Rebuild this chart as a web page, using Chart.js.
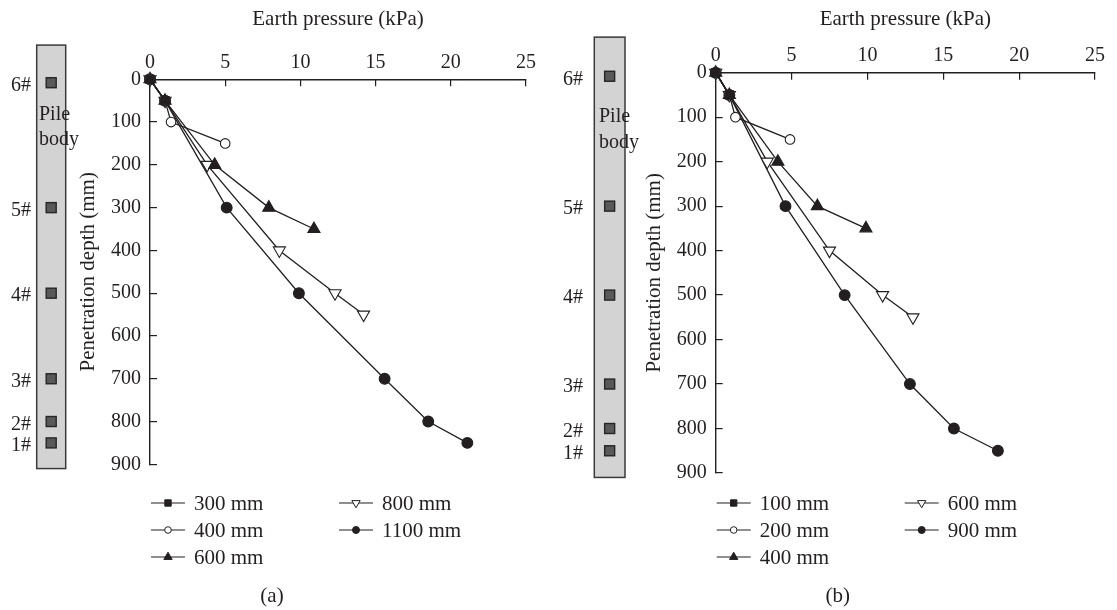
<!DOCTYPE html>
<html>
<head>
<meta charset="utf-8">
<script src="https://cdn.jsdelivr.net/npm/chart.js@4.4.0/dist/chart.umd.min.js"></script>
<style>
html, body { margin: 0; padding: 0; background: #fff; }
#wrap { position: relative; width: 1117px; height: 610px; overflow: hidden; }
canvas { position: absolute; top: 0; }
</style>
</head>
<body>
<div id="wrap">
  <canvas id="chartA" width="558" height="610" style="left:0"></canvas>
  <canvas id="chartB" width="559" height="610" style="left:558px"></canvas>
</div>
<script>
/**
 * Axes
 */
const xTitle = "Earth pressure (kPa)";
const yTitle = "Penetration depth (mm)";
const xMin = 0, xMax = 25, xStep = 5;
const yMin = 0, yMax = 900, yStep = 100;

/**
 * Pile body sketch (depths in mm)
 */
const sensorLabels = ["6#", "5#", "4#", "3#", "2#", "1#"];
const sensorDepths = [8, 300, 500, 700, 800, 850];
const pileTop = -80;
const pileBottom = 910;

/**
 * Panel (a)
 */
const seriesA = ["300 mm", "400 mm", "600 mm", "800 mm", "1100 mm"];
const pressA300 = [0, 1.0];
const depthA300 = [0, 50];
const pressA400 = [0, 1.0, 1.4, 5.0];
const depthA400 = [0, 50, 100, 150];
const pressA600 = [0, 1.0, 4.3, 7.9, 10.9];
const depthA600 = [0, 50, 200, 300, 350];
const pressA800 = [0, 1.0, 3.8, 8.6, 12.3, 14.2];
const depthA800 = [0, 50, 200, 400, 500, 550];
const pressA1100 = [0, 1.0, 5.1, 9.9, 15.6, 18.5, 21.1];
const depthA1100 = [0, 50, 300, 500, 700, 800, 850];

/**
 * Panel (b)
 */
const seriesB = ["100 mm", "200 mm", "400 mm", "600 mm", "900 mm"];
const pressB100 = [0, 0.9];
const depthB100 = [0, 50];
const pressB200 = [0, 0.9, 1.3, 4.9];
const depthB200 = [0, 50, 100, 150];
const pressB400 = [0, 0.9, 4.1, 6.7, 9.9];
const depthB400 = [0, 50, 200, 300, 350];
const pressB600 = [0, 0.9, 3.4, 7.5, 11.0, 13.0];
const depthB600 = [0, 50, 200, 400, 500, 550];
const pressB900 = [0, 0.9, 4.6, 8.5, 12.8, 15.7, 18.6];
const depthB900 = [0, 50, 300, 500, 700, 800, 850];

/**
 * Look
 */
const ink = "#231f20";
const fontFamily = "'Liberation Serif', 'Times New Roman', serif";
// marker per series position: filled square, open circle, filled triangle, open down triangle, filled circle
const markers = [
    {style: "rect", fill: ink, radius: 5.8, rot: 0, legendR: 4.5},
    {style: "circle", fill: "#fff", radius: 4.8, rot: 0, legendR: 3.3},
    {style: "triangle", fill: ink, radius: 7, rot: 0, legendR: 4.8},
    {style: "triangle", fill: "#fff", radius: 7, rot: 180, legendR: 4.8},
    {style: "circle", fill: ink, radius: 5.4, rot: 0, legendR: 3.5},
];

function toPoints(xs, ys) {
    return xs.map((x, i) => ({x: x, y: ys[i]}));
}

//small marker for the legend, same shapes as the chart
function drawMarker(ctx, m, x, y) {
    const r = m.legendR;
    ctx.beginPath();
    if (m.style === "rect") {
        const s = r * Math.SQRT1_2;
        ctx.rect(x - s, y - s, 2 * s, 2 * s);
    } else if (m.style === "circle") {
        ctx.arc(x, y, r, 0, Math.PI * 2);
    } else {
        const dir = m.rot === 180 ? 1 : -1;
        ctx.moveTo(x, y + dir * r);
        ctx.lineTo(x - r * 0.866, y - dir * r * 0.5);
        ctx.lineTo(x + r * 0.866, y - dir * r * 0.5);
        ctx.closePath();
    }
    ctx.fillStyle = m.fill;
    ctx.fill();
    ctx.lineWidth = 1;
    ctx.strokeStyle = ink;
    ctx.stroke();
}

/**
 * Pile body drawn next to the depth axis, sensors placed on the y scale
 */
const pilePlugin = {
    id: "pile",
    afterDraw(chart, args, opts) {
        const ctx = chart.ctx;
        const y = chart.scales.y;
        const top = y.getPixelForValue(pileTop);
        const bottom = y.getPixelForValue(pileBottom);
        ctx.save();
        ctx.fillStyle = "#d3d3d3";
        ctx.fillRect(opts.left, top, opts.width, bottom - top);
        ctx.lineWidth = 1.5;
        ctx.strokeStyle = "#3a3a3a";
        ctx.strokeRect(opts.left, top, opts.width, bottom - top);

        const cx = opts.left + opts.width / 2;
        ctx.font = "20px " + fontFamily;
        ctx.textBaseline = "middle";
        sensorDepths.forEach((d, i) => {
            const py = y.getPixelForValue(d);
            ctx.fillStyle = "#595959";
            ctx.fillRect(cx - 5, py - 5, 10, 10);
            ctx.lineWidth = 1.4;
            ctx.strokeStyle = "#262626";
            ctx.strokeRect(cx - 5, py - 5, 10, 10);
            ctx.fillStyle = ink;
            ctx.textAlign = "right";
            ctx.fillText(sensorLabels[i], opts.labelRight, py + 3);
        });

        ctx.textAlign = "left";
        ctx.fillStyle = ink;
        ctx.fillText("Pile", opts.textLeft, opts.textY[0]);
        ctx.fillText("body", opts.textLeft, opts.textY[1]);
        ctx.restore();
    }
};

/**
 * Two-column legend (column first) and the panel caption
 */
const keyPlugin = {
    id: "key",
    afterDraw(chart, args, opts) {
        const ctx = chart.ctx;
        const left = chart.chartArea.left + 1;
        const rows = [503, 530, 557];
        ctx.save();
        ctx.font = "21px " + fontFamily;
        ctx.textBaseline = "middle";
        ctx.textAlign = "left";
        chart.data.datasets.forEach((ds, i) => {
            const col = i < 3 ? 0 : 1;
            const x = left + col * 188;
            const yy = rows[i % 3];
            ctx.strokeStyle = ink;
            ctx.lineWidth = 1.2;
            ctx.beginPath();
            ctx.moveTo(x, yy);
            ctx.lineTo(x + 34, yy);
            ctx.stroke();
            drawMarker(ctx, markers[i], x + 17, yy);
            ctx.fillStyle = ink;
            ctx.fillText(ds.label, x + 43, yy + 1);
        });
        ctx.textAlign = "center";
        ctx.fillText(opts.caption, chart.chartArea.left + 122, 596);
        ctx.restore();
    }
};

function makePanel(id, names, series, box) {
    const canvas = document.getElementById(id);
    const W = canvas.width, H = canvas.height;
    const datasets = series.map((s, i) => ({
        label: names[i],
        data: toPoints(s[0], s[1]),
        showLine: true,
        borderColor: ink,
        borderWidth: 1.3,
        tension: 0,
        pointStyle: markers[i].style,
        pointRotation: markers[i].rot,
        pointRadius: markers[i].radius,
        pointHoverRadius: markers[i].radius,
        pointBackgroundColor: markers[i].fill,
        pointBorderColor: ink,
        pointBorderWidth: 1.1,
        clip: false,
    }));

    return new Chart(canvas, {
        type: "scatter",
        data: {datasets: datasets},
        options: {
            responsive: false,
            animation: false,
            events: [],
            layout: {
                padding: {left: 0, top: 0, right: W - box.right, bottom: H - box.bottom}
            },
            scales: {
                x: {
                    type: "linear",
                    position: "top",
                    min: xMin,
                    max: xMax,
                    afterFit: (s) => { s.height = box.top; },
                    ticks: {stepSize: xStep, color: ink, padding: 12, font: {family: fontFamily, size: 20}},
                    grid: {drawOnChartArea: false, tickLength: -7, color: ink, lineWidth: 1.2},
                    border: {color: ink, width: 1.4},
                    title: {display: true, text: xTitle, color: ink, padding: {top: 7, bottom: 0},
                        font: {family: fontFamily, size: 21}}
                },
                y: {
                    type: "linear",
                    reverse: true,
                    min: yMin,
                    max: yMax,
                    afterFit: (s) => { s.width = box.left; },
                    ticks: {stepSize: yStep, color: ink, padding: 16, font: {family: fontFamily, size: 20}},
                    grid: {drawOnChartArea: false, tickLength: -7, color: ink, lineWidth: 1.2},
                    border: {color: ink, width: 1.4},
                    title: {display: true, text: yTitle, color: ink, padding: {top: box.yTitlePad, bottom: 0},
                        font: {family: fontFamily, size: 21}}
                }
            },
            plugins: {
                legend: {display: false},
                tooltip: {enabled: false},
                pile: box.pile,
                key: {caption: box.caption}
            }
        },
        plugins: [pilePlugin, keyPlugin]
    });
}

makePanel("chartA", seriesA, [
    [pressA300, depthA300],
    [pressA400, depthA400],
    [pressA600, depthA600],
    [pressA800, depthA800],
    [pressA1100, depthA1100],
], {
    left: 150, top: 79.3, right: 526, bottom: 464.3, yTitlePad: 76, caption: "(a)",
    pile: {left: 36.7, width: 29, labelRight: 31, textLeft: 39, textY: [115, 140]}
});

makePanel("chartB", seriesB, [
    [pressB100, depthB100],
    [pressB200, depthB200],
    [pressB400, depthB400],
    [pressB600, depthB600],
    [pressB900, depthB900],
], {
    left: 157.7, top: 72.7, right: 547, bottom: 473, yTitlePad: 84, caption: "(b)",
    pile: {left: 36.3, width: 30.7, labelRight: 25, textLeft: 41, textY: [117, 143]}
});
</script>
</body>
</html>
